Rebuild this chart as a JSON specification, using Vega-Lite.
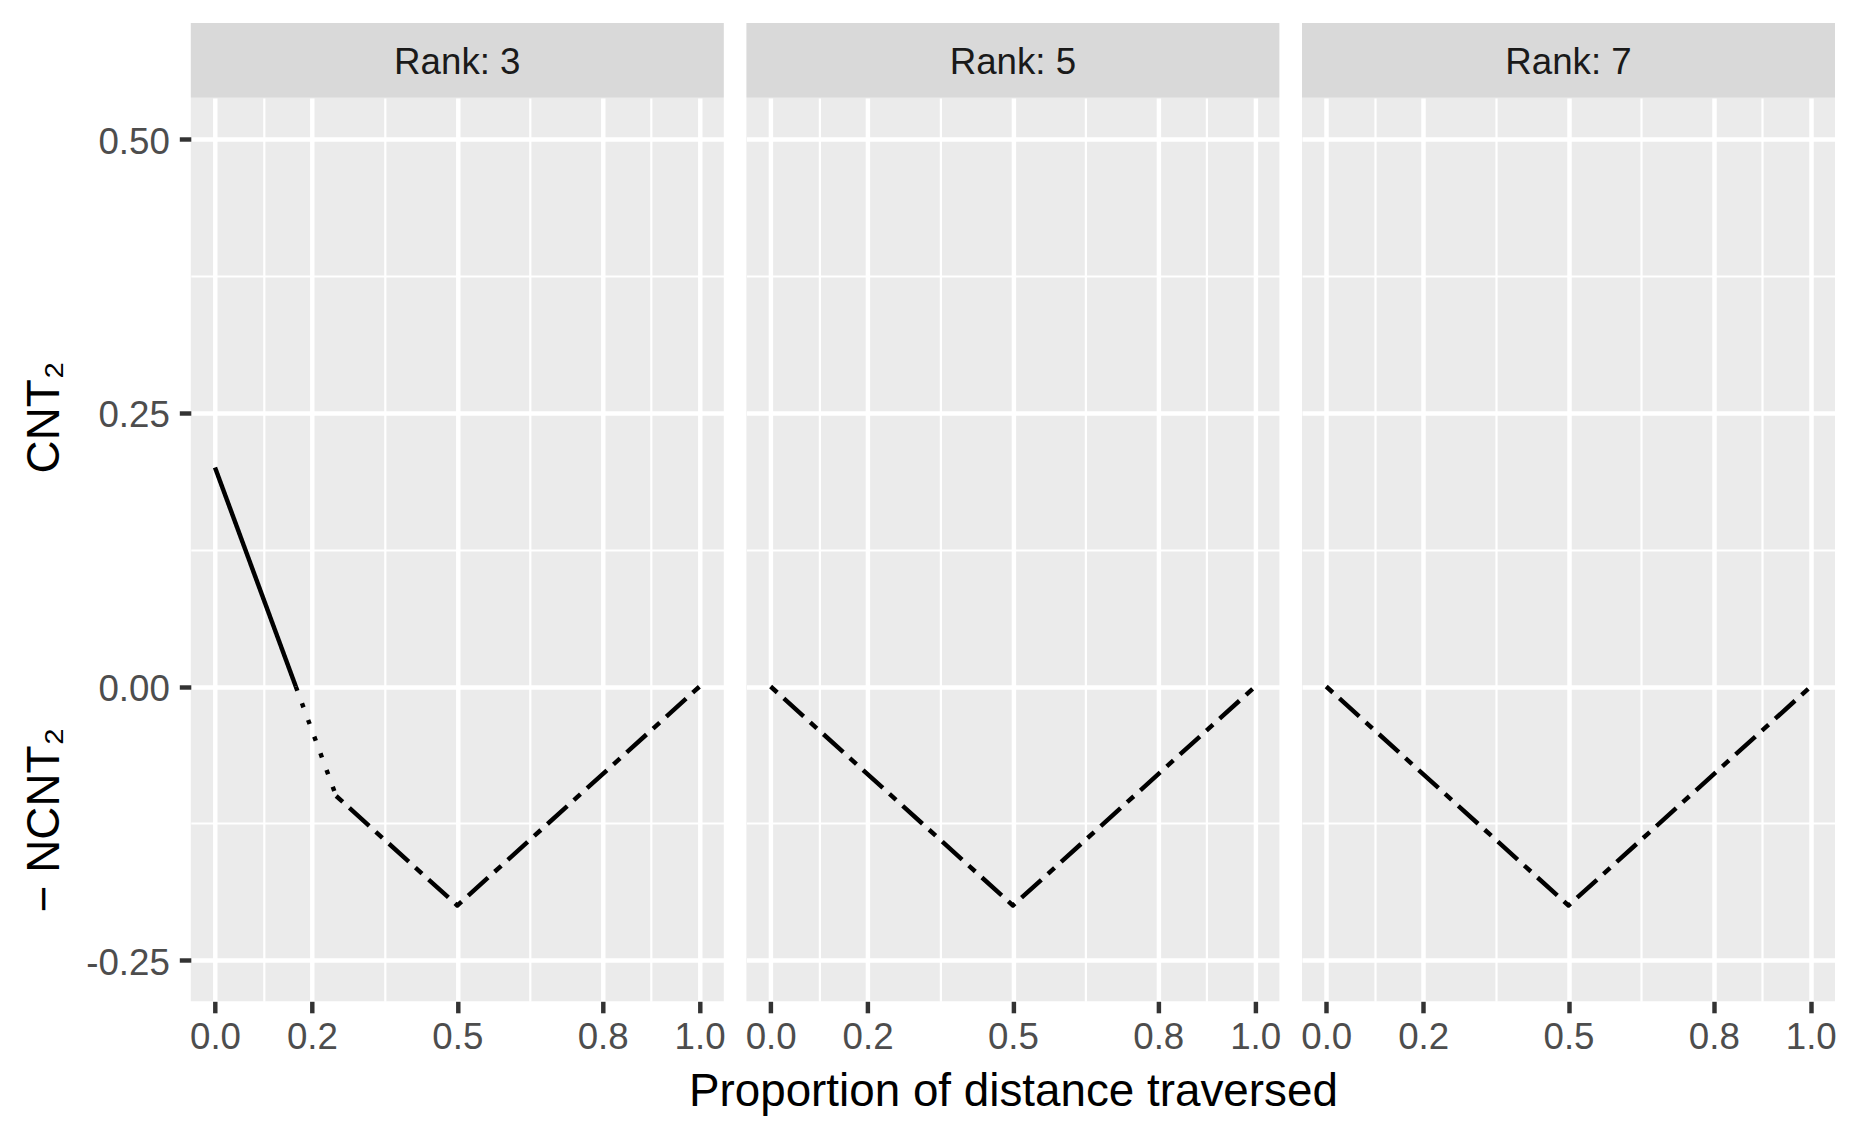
{
  "$schema": "https://vega.github.io/schema/vega-lite/v6.json",
  "padding": {"left": 20.8, "top": 23, "right": 5, "bottom": 5},
  "background": "#FFFFFF",
  "datasets": {
    "strips": [
      {"rank": 3, "label": "Rank: 3"},
      {"rank": 5, "label": "Rank: 5"},
      {"rank": 7, "label": "Rank: 7"}
    ],
    "lines": [
      {"rank": 3, "x": 0, "y": 0.2, "seg": "solid"},
      {"rank": 3, "x": 0.1667, "y": 0, "seg": "solid"},
      {"rank": 3, "x": 0.1667, "y": 0, "seg": "dotted"},
      {"rank": 3, "x": 0.25, "y": -0.1, "seg": "dotted"},
      {"rank": 3, "x": 0.25, "y": -0.1, "seg": "twodash"},
      {"rank": 3, "x": 0.5, "y": -0.2, "seg": "twodash"},
      {"rank": 3, "x": 1, "y": 0, "seg": "twodash"},
      {"rank": 5, "x": 0, "y": 0, "seg": "twodash"},
      {"rank": 5, "x": 0.5, "y": -0.2, "seg": "twodash"},
      {"rank": 5, "x": 1, "y": 0, "seg": "twodash"},
      {"rank": 7, "x": 0, "y": 0, "seg": "twodash"},
      {"rank": 7, "x": 0.5, "y": -0.2, "seg": "twodash"},
      {"rank": 7, "x": 1, "y": 0, "seg": "twodash"}
    ]
  },
  "columns": 3,
  "spacing": {"row": 0, "column": 22.6},
  "bounds": "flush",
  "align": "each",
  "concat": [
    {
      "width": 533, "height": 74.7,
      "view": {"fill": "#D9D9D9", "stroke": null},
      "data": {"name": "strips"},
      "transform": [{"filter": "datum.rank == 3"}],
      "mark": {"type": "text", "font": "Liberation Sans", "fontSize": 36.7, "color": "#1A1A1A", "align": "center", "baseline": "middle", "dy": 2.6},
      "encoding": {"text": {"field": "label", "type": "nominal"}}
    },
    {
      "width": 533, "height": 74.7,
      "view": {"fill": "#D9D9D9", "stroke": null},
      "data": {"name": "strips"},
      "transform": [{"filter": "datum.rank == 5"}],
      "mark": {"type": "text", "font": "Liberation Sans", "fontSize": 36.7, "color": "#1A1A1A", "align": "center", "baseline": "middle", "dy": 2.6},
      "encoding": {"text": {"field": "label", "type": "nominal"}}
    },
    {
      "width": 533, "height": 74.7,
      "view": {"fill": "#D9D9D9", "stroke": null},
      "data": {"name": "strips"},
      "transform": [{"filter": "datum.rank == 7"}],
      "mark": {"type": "text", "font": "Liberation Sans", "fontSize": 36.7, "color": "#1A1A1A", "align": "center", "baseline": "middle", "dy": 2.6},
      "encoding": {"text": {"field": "label", "type": "nominal"}}
    },
    {
      "width": 533, "height": 903.3,
      "view": {"fill": "#EBEBEB", "stroke": null},
      "data": {"name": "lines"},
      "transform": [{"filter": "datum.rank == 3"}],
      "mark": {"type": "line", "color": "#000000", "strokeWidth": 4.45, "strokeCap": "butt", "strokeJoin": "round"},
      "encoding": {
        "x": {
          "field": "x", "type": "quantitative",
          "scale": {"domain": [-0.05, 1.05], "nice": false, "zero": false},
          "axis": {
            "title": null,
            "values": [0, 0.1, 0.2, 0.35, 0.5, 0.65, 0.8, 0.9, 1],
            "labelExpr": "indexof([0,0.2,0.5,0.8,1], datum.value) >= 0 ? format(datum.value, '.1f') : ''",
            "gridWidth": {"condition": {"test": "indexof([0,0.2,0.5,0.8,1], datum.value) >= 0", "value": 4.45}, "value": 2.2},
            "tickOpacity": {"condition": {"test": "indexof([0,0.2,0.5,0.8,1], datum.value) >= 0", "value": 1}, "value": 0},
            "labelPadding": 6.5, "labelBaseline": "top"
          }
        },
        "y": {
          "field": "y", "type": "quantitative",
          "scale": {"domain": [-0.2875, 0.5375], "nice": false, "zero": false},
          "axis": {
            "title": "\u2212\u00a0NCNT\u2082\u00a0\u00a0\u00a0\u00a0\u00a0\u00a0\u00a0\u00a0\u00a0\u00a0\u00a0\u00a0\u00a0\u00a0\u00a0\u00a0\u00a0\u00a0\u00a0\u00a0CNT\u2082",
            "titleAngle": 270, "titleAlign": "left", "titleBaseline": "alphabetic",
            "titleX": -132, "titleY": 813.7,
            "values": [-0.25, -0.125, 0, 0.125, 0.25, 0.375, 0.5],
            "labelExpr": "indexof([-0.25,0,0.25,0.5], datum.value) >= 0 ? replace(format(datum.value, '.2f'), '\u2212', '-') : ''",
            "gridWidth": {"condition": {"test": "indexof([-0.25,0,0.25,0.5], datum.value) >= 0", "value": 4.45}, "value": 2.2},
            "tickOpacity": {"condition": {"test": "indexof([-0.25,0,0.25,0.5], datum.value) >= 0", "value": 1}, "value": 0},
            "labelPadding": 10, "labelBaseline": "middle", "labelOffset": 3
          }
        },
        "strokeDash": {
          "field": "seg", "type": "nominal", "legend": null,
          "scale": {"domain": ["solid", "dotted", "twodash"], "range": [[1, 0], [4.45, 13.35], [8.9, 8.9, 26.7, 8.9]]}
        }
      }
    },
    {
      "width": 533, "height": 903.3,
      "view": {"fill": "#EBEBEB", "stroke": null},
      "data": {"name": "lines"},
      "transform": [{"filter": "datum.rank == 5"}],
      "mark": {"type": "line", "color": "#000000", "strokeWidth": 4.45, "strokeCap": "butt", "strokeJoin": "round"},
      "encoding": {
        "x": {
          "field": "x", "type": "quantitative",
          "scale": {"domain": [-0.05, 1.05], "nice": false, "zero": false},
          "axis": {
            "title": "Proportion of distance traversed",
            "titleBaseline": "alphabetic", "titleY": 104, "titleAnchor": "middle",
            "values": [0, 0.1, 0.2, 0.35, 0.5, 0.65, 0.8, 0.9, 1],
            "labelExpr": "indexof([0,0.2,0.5,0.8,1], datum.value) >= 0 ? format(datum.value, '.1f') : ''",
            "gridWidth": {"condition": {"test": "indexof([0,0.2,0.5,0.8,1], datum.value) >= 0", "value": 4.45}, "value": 2.2},
            "tickOpacity": {"condition": {"test": "indexof([0,0.2,0.5,0.8,1], datum.value) >= 0", "value": 1}, "value": 0},
            "labelPadding": 6.5, "labelBaseline": "top"
          }
        },
        "y": {
          "field": "y", "type": "quantitative",
          "scale": {"domain": [-0.2875, 0.5375], "nice": false, "zero": false},
          "axis": {
            "title": null, "labels": false, "ticks": false,
            "values": [-0.25, -0.125, 0, 0.125, 0.25, 0.375, 0.5],
            "gridWidth": {"condition": {"test": "indexof([-0.25,0,0.25,0.5], datum.value) >= 0", "value": 4.45}, "value": 2.2}
          }
        },
        "strokeDash": {
          "field": "seg", "type": "nominal", "legend": null,
          "scale": {"domain": ["solid", "dotted", "twodash"], "range": [[1, 0], [4.45, 13.35], [8.9, 8.9, 26.7, 8.9]]}
        }
      }
    },
    {
      "width": 533, "height": 903.3,
      "view": {"fill": "#EBEBEB", "stroke": null},
      "data": {"name": "lines"},
      "transform": [{"filter": "datum.rank == 7"}],
      "mark": {"type": "line", "color": "#000000", "strokeWidth": 4.45, "strokeCap": "butt", "strokeJoin": "round"},
      "encoding": {
        "x": {
          "field": "x", "type": "quantitative",
          "scale": {"domain": [-0.05, 1.05], "nice": false, "zero": false},
          "axis": {
            "title": null,
            "values": [0, 0.1, 0.2, 0.35, 0.5, 0.65, 0.8, 0.9, 1],
            "labelExpr": "indexof([0,0.2,0.5,0.8,1], datum.value) >= 0 ? format(datum.value, '.1f') : ''",
            "gridWidth": {"condition": {"test": "indexof([0,0.2,0.5,0.8,1], datum.value) >= 0", "value": 4.45}, "value": 2.2},
            "tickOpacity": {"condition": {"test": "indexof([0,0.2,0.5,0.8,1], datum.value) >= 0", "value": 1}, "value": 0},
            "labelPadding": 6.5, "labelBaseline": "top"
          }
        },
        "y": {
          "field": "y", "type": "quantitative",
          "scale": {"domain": [-0.2875, 0.5375], "nice": false, "zero": false},
          "axis": {
            "title": null, "labels": false, "ticks": false,
            "values": [-0.25, -0.125, 0, 0.125, 0.25, 0.375, 0.5],
            "gridWidth": {"condition": {"test": "indexof([-0.25,0,0.25,0.5], datum.value) >= 0", "value": 4.45}, "value": 2.2}
          }
        },
        "strokeDash": {
          "field": "seg", "type": "nominal", "legend": null,
          "scale": {"domain": ["solid", "dotted", "twodash"], "range": [[1, 0], [4.45, 13.35], [8.9, 8.9, 26.7, 8.9]]}
        }
      }
    }
  ],
  "config": {
    "font": "Liberation Sans",
    "view": {"stroke": null},
    "axis": {
      "domain": false,
      "grid": true,
      "gridColor": "#FFFFFF",
      "labelFont": "Liberation Sans",
      "labelFontSize": 36.7,
      "labelColor": "#4D4D4D",
      "labelFlush": false,
      "labelOverlap": false,
      "tickColor": "#333333",
      "tickWidth": 4.45,
      "tickSize": 11.5,
      "titleFont": "Liberation Sans",
      "titleFontSize": 45.8,
      "titleFontWeight": "normal",
      "titleColor": "#000000"
    }
  }
}
